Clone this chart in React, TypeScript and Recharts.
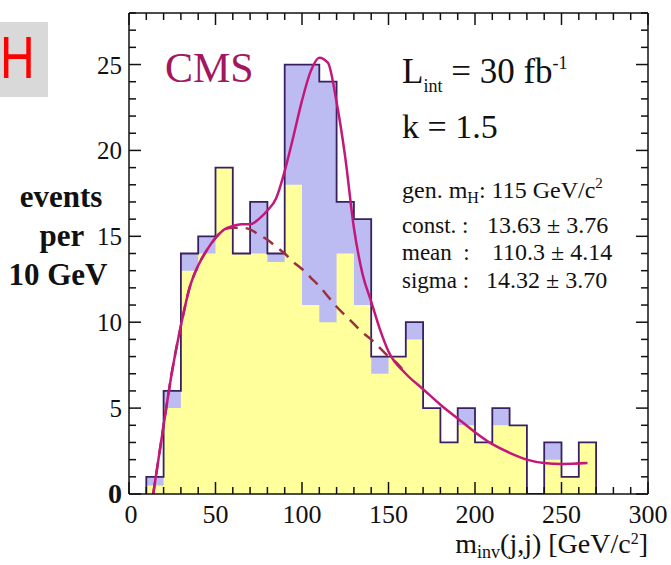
import React from 'react';
import { ComposedChart, Area, Line, XAxis, YAxis } from 'recharts';

// histogram bins, 10 GeV wide, lower edges
const binLo = [10, 20, 30, 40, 50, 60, 70, 80, 90, 100, 110, 120, 130, 140, 150, 160, 170, 180, 190, 200, 210, 220, 230, 240, 250, 260];
const binHi = 270;
// pseudo-data counts (outline) = signal + background fill
const observed = [1, 6, 14, 15, 19, 14, 17, 14, 25, 25, 24, 17, 16, 8, 8, 10, 5, 3, 5, 3, 5, 4, 0, 3, 1, 3];
// background part (yellow)
const background = [0.5, 5, 13, 14, 19, 14, 14, 13.5, 18, 11, 10, 14, 11, 7, 8, 9, 5, 3, 4, 3, 4, 4, 0, 2, 1, 3];

// fit: gaussian + background (solid)
const fitX = [14, 17, 20, 25, 30, 35, 40, 45, 50, 55, 60, 65, 70, 75, 80, 85, 90, 95, 100, 105, 110, 115, 120, 125, 130, 135, 140, 145, 150, 160, 170, 180, 190, 200, 210, 220, 230, 240, 250, 265];
const fitY = [0, 2, 4, 7.2, 9.8, 12, 13.3, 14.2, 14.9, 15.4, 15.6, 15.7, 15.7, 16, 16.5, 17.2, 18.8, 20.8, 22.9, 24.6, 25.4, 25.1, 22.8, 19.6, 15.5, 12.8, 11.2, 9.6, 8.3, 7.0, 6.1, 5.2, 4.4, 3.6, 2.9, 2.4, 2.0, 1.8, 1.75, 1.8];
// background component of the fit (dashed)
const bkgX = [14, 17, 20, 25, 30, 35, 40, 45, 50, 55, 60, 65, 70, 75, 80, 85, 90, 95, 100, 105, 110, 115, 120, 125, 130, 135, 140, 145, 150, 155, 160];
const bkgY = [0, 2, 4, 7.2, 9.8, 12, 13.3, 14.2, 14.9, 15.4, 15.5, 15.5, 15.4, 15.1, 14.8, 14.4, 14.0, 13.5, 13.1, 12.6, 12.1, 11.5, 10.9, 10.4, 9.9, 9.4, 9.0, 8.5, 8.0, 7.6, 7.0];

const xTicks = Array.from({ length: 31 }, (_, i) => i * 10);
const yTicks = Array.from({ length: 29 }, (_, i) => i);

const SERIF = '"Liberation Serif", "Times New Roman", serif';
const INK = '#111';

// step-shaped table for a histogram series
const steps = (vals: number[]) => {
  const pts = [{ x: binLo[0], y: 0 }];
  binLo.forEach((lo, i) => pts.push({ x: lo, y: vals[i] }));
  pts.push({ x: binHi, y: vals[vals.length - 1] });
  pts.push({ x: binHi, y: 0 });
  return pts;
};

const dataSteps = steps(observed);
const bkgSteps = steps(background);
const fitData = fitX.map((x, i) => ({ x, y: fitY[i] }));
const bkgData = bkgX.map((x, i) => ({ x, y: bkgY[i] }));

const BottomTick = (p: any) => {
  const v = p.payload.value;
  const major = v % 50 === 0;
  return (
    <g>
      <line x1={p.x} y1={p.y} x2={p.x} y2={p.y - (major ? 12 : 7)} stroke={INK} strokeWidth={1.5} />
      {major && (
        <text x={v === 0 ? p.x + 2 : p.x} y={p.y + 29} textAnchor="middle" fontSize={26} fontFamily={SERIF} fill={INK}>
          {v}
        </text>
      )}
    </g>
  );
};

const TopTick = (p: any) => {
  const major = p.payload.value % 50 === 0;
  return <line x1={p.x} y1={p.y} x2={p.x} y2={p.y + (major ? 12 : 7)} stroke={INK} strokeWidth={1.5} />;
};

const LeftTick = (p: any) => {
  const v = p.payload.value;
  const major = v % 5 === 0;
  return (
    <g>
      <line x1={p.x} y1={p.y} x2={p.x + (major ? 12 : 7)} y2={p.y} stroke={INK} strokeWidth={1.5} />
      {major && (
        <text
          x={p.x - 7}
          y={p.y + 9}
          textAnchor="end"
          fontSize={v === 0 ? 28 : 25}
          fontWeight={v === 0 ? 'bold' : 'normal'}
          fontFamily={SERIF}
          fill={INK}
        >
          {v}
        </text>
      )}
    </g>
  );
};

const RightTick = (p: any) => {
  const major = p.payload.value % 5 === 0;
  return <line x1={p.x} y1={p.y} x2={p.x - (major ? 12 : 7)} y2={p.y} stroke={INK} strokeWidth={1.5} />;
};

export default function App() {
  return (
    <div style={{ position: 'absolute', left: 0, top: 0, width: 671, height: 565, background: '#fff' }}>
      <ComposedChart width={671} height={565} margin={{ top: 3, right: 13, bottom: 41, left: 89 }}>
        <XAxis xAxisId={0} dataKey="x" type="number" domain={[0, 300]} ticks={xTicks} interval={0} allowDataOverflow
          height={30} tickSize={0} tickMargin={0} tickLine={false} tick={<BottomTick />} axisLine={{ stroke: INK, strokeWidth: 1.5 }} />
        <XAxis xAxisId="top" orientation="top" dataKey="x" type="number" domain={[0, 300]} ticks={xTicks} interval={0} allowDataOverflow
          height={10} tickSize={0} tickMargin={0} tickLine={false} tick={<TopTick />} axisLine={{ stroke: INK, strokeWidth: 1.5 }} />
        <YAxis yAxisId={0} type="number" domain={[0, 28]} ticks={yTicks} interval={0} allowDataOverflow
          width={40} tickSize={0} tickMargin={0} tickLine={false} tick={<LeftTick />} axisLine={{ stroke: INK, strokeWidth: 1.5 }} />
        <YAxis yAxisId="right" orientation="right" type="number" domain={[0, 28]} ticks={yTicks} interval={0} allowDataOverflow
          width={10} tickSize={0} tickMargin={0} tickLine={false} tick={<RightTick />} axisLine={{ stroke: INK, strokeWidth: 1.5 }} />

        <Area data={dataSteps} dataKey="y" type="stepAfter" fill="#bcbcf2" fillOpacity={1} stroke="none" isAnimationActive={false} />
        <Area data={bkgSteps} dataKey="y" type="stepAfter" fill="#ffff9c" fillOpacity={1} stroke="none" isAnimationActive={false} />
        <Line data={dataSteps} dataKey="y" type="stepAfter" stroke="#3a2060" strokeWidth={1.8} dot={false} isAnimationActive={false} />
        <Line data={bkgData} dataKey="y" type="monotone" stroke="#9a3040" strokeWidth={2.5} strokeDasharray="12 8" dot={false} isAnimationActive={false} />
        <Line data={fitData} dataKey="y" type="monotone" stroke="#c4177a" strokeWidth={2.5} dot={false} isAnimationActive={false} />
      </ComposedChart>

      <svg width={671} height={565} style={{ position: 'absolute', left: 0, top: 0, pointerEvents: 'none' }}>
        <rect x={0} y={22} width={48} height={75} fill="#d9d9d9" />
        <text x={0} y={78} fontSize={60} fontFamily='"Liberation Sans", Arial, sans-serif' fill="#ff0000" transform="scale(0.8 1)">H</text>

        <g fontFamily={SERIF} fontWeight="bold" fontSize={31} fill={INK} textAnchor="middle">
          <text x={61} y={207}>events</text>
          <text x={62} y={246}>per</text>
          <text x={58} y={285}>10 GeV</text>
        </g>

        <text x={165} y={82} fontSize={42} fontFamily={SERIF} fill="#a3175e">CMS</text>

        <g fontFamily={SERIF} fill={INK}>
          <text x={402} y={83} fontSize={35}>
            L<tspan fontSize={18} dy={9}>int</tspan>
            <tspan dy={-9}> = 30 fb</tspan>
            <tspan fontSize={18} dy={-14}>-1</tspan>
          </text>
          <text x={402} y={138} fontSize={34}>k = 1.5</text>

          <text x={402} y={198} fontSize={24}>
            gen. m<tspan fontSize={16} dy={5}>H</tspan>
            <tspan dy={-5}>: 115 GeV/c</tspan>
            <tspan fontSize={15} dy={-10}>2</tspan>
          </text>
          <text x={402} y={233} fontSize={23}>const. :</text>
          <text x={487} y={233} fontSize={24}>13.63 ± 3.76</text>
          <text x={402} y={260} fontSize={23}>mean&#160;&#160;:</text>
          <text x={492} y={260} fontSize={24}>110.3 ± 4.14</text>
          <text x={402} y={288} fontSize={23}>sigma :</text>
          <text x={486} y={288} fontSize={24}>14.32 ± 3.70</text>
        </g>

        <text x={648} y={553} textAnchor="end" fontSize={28} fontFamily={SERIF} fill={INK}>
          m<tspan fontSize={18} dy={5}>inv</tspan>
          <tspan dy={-5}>(j,j) [GeV/c</tspan>
          <tspan fontSize={16} dy={-9}>2</tspan>
          <tspan dy={9}>]</tspan>
        </text>
      </svg>
    </div>
  );
}
